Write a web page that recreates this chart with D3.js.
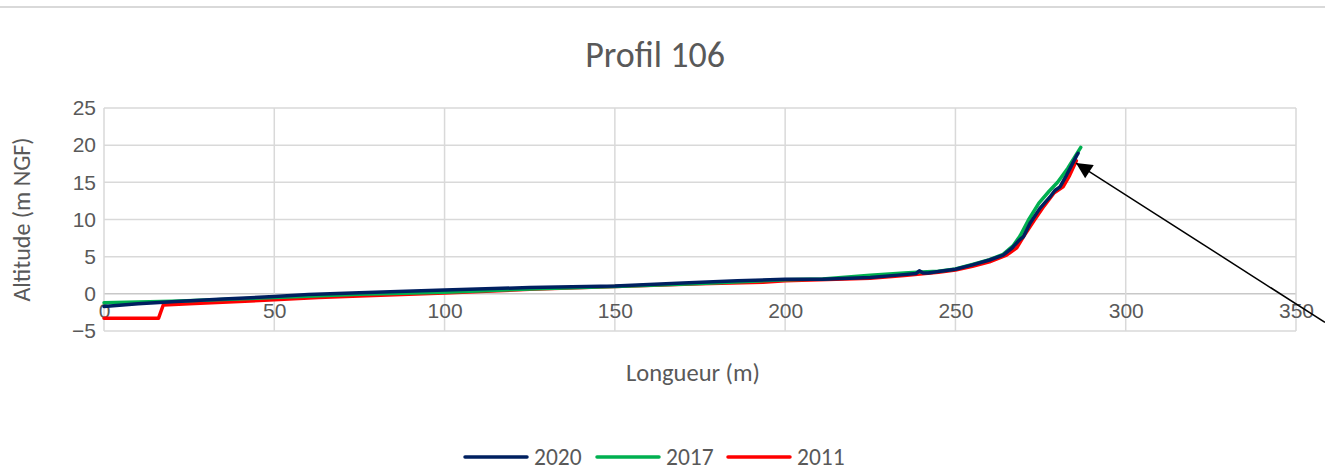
<!DOCTYPE html>
<html>
<head>
<meta charset="utf-8">
<script src="https://cdn.jsdelivr.net/npm/d3@7"></script>
<style>
  html, body { margin: 0; padding: 0; background: #fff; }
  svg { display: block; font-family: Carlito, Calibri, Lato, sans-serif; }
  .tickText { fill: #595959; font-size: 21px; }
</style>
</head>
<body>
<div id="chart"></div>
<script>
// Values (distance in m, altitude in m NGF)
const serie2020 = [
  [0, -1.7], [10, -1.35], [20, -1.05], [35, -0.7], [50, -0.36], [60, -0.1], [75, 0.15],
  [100, 0.5], [125, 0.85], [150, 1.07], [170, 1.45], [186, 1.75], [200, 1.97], [211, 1.95],
  [225, 2.2], [234, 2.55], [238.5, 2.75], [239.4, 3.1], [240.5, 2.8], [242, 2.8], [245, 3.0],
  [250, 3.3], [255, 3.9], [260, 4.55], [264, 5.2], [266.5, 6.1], [268.9, 7.3], [270, 7.7],
  [271.9, 9.5], [274.8, 11.5], [277.7, 13.0], [279.2, 13.9], [280.7, 14.4], [282.6, 15.95],
  [285.6, 18.6], [286, 18.9]
];
const serie2017 = [
  [0, -1.2], [10, -1.1], [20, -1.0], [35, -0.75], [50, -0.5], [75, -0.05], [100, 0.2],
  [125, 0.65], [150, 1.0], [175, 1.4], [200, 1.9], [211, 2.0], [225, 2.5], [235, 2.8],
  [240, 2.95], [245, 3.05], [250, 3.35], [255, 3.95], [260, 4.6], [264, 5.3], [267, 6.5],
  [269, 7.8], [271.4, 9.9], [274.5, 12.2], [277.5, 13.8], [280, 15.0], [283, 16.9], [286.8, 19.7]
];
const serie2011 = [
  [0, -3.3], [16, -3.3], [17.4, -1.5], [25, -1.35], [50, -0.8], [63, -0.5], [75, -0.3],
  [100, 0.1], [125, 0.6], [150, 1.0], [175, 1.35], [193.5, 1.55], [200, 1.75], [225, 2.1],
  [235, 2.45], [245, 2.9], [250, 3.2], [255, 3.7], [260, 4.3], [265, 5.2], [268, 6.2],
  [270, 7.7], [273, 9.8], [276, 11.8], [279, 13.6], [281.6, 14.4], [283.5, 15.9], [285.5, 17.9]
];
const seriesNames = ["2020", "2017", "2011"];
const seriesColors = ["#002060", "#00B050", "#FF0000"];
const xTicks = [0, 50, 100, 150, 200, 250, 300, 350];
const yTicks = [-5, 0, 5, 10, 15, 20, 25];
// annotation arrow: tail then tip, in data units
const arrowPoints = [[358.5, -3.85], [285.4, 17.6]];

const width = 1325, height = 475;
const margin = {top: 108, right: 29, bottom: 144, left: 104};

const svg = d3.select("#chart").append("svg")
  .attr("width", width)
  .attr("height", height);

// thin top frame line
svg.append("line")
  .attr("x1", 0).attr("x2", width)
  .attr("y1", 7).attr("y2", 7)
  .attr("stroke", "#d9d9d9").attr("stroke-width", 2);

const xScale = d3.scaleLinear().domain([0, 350]).range([margin.left, width - margin.right]);
const yScale = d3.scaleLinear().domain([-5, 25]).range([height - margin.bottom, margin.top]);

// gridlines
svg.append("g").selectAll("line.hgrid")
  .data(yTicks).join("line")
  .attr("x1", xScale(0)).attr("x2", xScale(350))
  .attr("y1", d => yScale(d)).attr("y2", d => yScale(d))
  .attr("stroke", d => d === 0 ? "#c8c8c8" : "#d9d9d9")
  .attr("stroke-width", 1.5);

svg.append("g").selectAll("line.vgrid")
  .data(xTicks).join("line")
  .attr("x1", d => xScale(d)).attr("x2", d => xScale(d))
  .attr("y1", yScale(25)).attr("y2", yScale(-5))
  .attr("stroke", "#d9d9d9")
  .attr("stroke-width", 1.5);

// axes (axis crosses at 0)
const xAxis = svg.append("g")
  .attr("transform", `translate(0,${yScale(0)})`)
  .call(d3.axisBottom(xScale).tickValues(xTicks).tickSize(0).tickPadding(9));
xAxis.select(".domain").remove();
xAxis.selectAll("text").attr("class", "tickText").attr("font-family", null).attr("font-size", null);

const yAxis = svg.append("g")
  .attr("transform", `translate(${xScale(0)},0)`)
  .call(d3.axisLeft(yScale).tickValues(yTicks).tickSize(0).tickPadding(8));
yAxis.select(".domain").remove();
yAxis.selectAll("text").attr("class", "tickText").attr("font-family", null).attr("font-size", null);

// series
const line = d3.line()
  .x(d => xScale(d[0]))
  .y(d => yScale(d[1]));

const allSeries = [serie2020, serie2017, serie2011];
// draw 2011 first, 2020 last (on top)
[2, 1, 0].forEach(i => {
  svg.append("path")
    .datum(allSeries[i])
    .attr("fill", "none")
    .attr("stroke", seriesColors[i])
    .attr("stroke-width", 3.5)
    .attr("stroke-linejoin", "round")
    .attr("stroke-linecap", "round")
    .attr("d", line);
});

// annotation arrow
svg.append("defs").append("marker")
  .attr("id", "arrowHead")
  .attr("viewBox", "0 0 10 10")
  .attr("refX", 10).attr("refY", 5)
  .attr("markerWidth", 19).attr("markerHeight", 16)
  .attr("markerUnits", "userSpaceOnUse")
  .attr("orient", "auto")
  .append("path")
  .attr("d", "M0,0 L10,5 L0,10 Z")
  .attr("fill", "#000");

svg.append("path")
  .datum(arrowPoints)
  .attr("d", line)
  .attr("stroke", "#000")
  .attr("stroke-width", 1.5)
  .attr("fill", "none")
  .attr("marker-end", "url(#arrowHead)");

// title
svg.append("text")
  .attr("x", 655).attr("y", 67)
  .attr("text-anchor", "middle")
  .attr("fill", "#595959")
  .style("font-size", "36px")
  .text("Profil 106");

// axis titles
svg.append("text")
  .attr("x", 693).attr("y", 381)
  .attr("text-anchor", "middle")
  .attr("fill", "#595959")
  .style("font-size", "24.5px")
  .text("Longueur (m)");

svg.append("text")
  .attr("transform", "rotate(-90)")
  .attr("x", -(yScale(25) + yScale(-5)) / 2)
  .attr("y", 30)
  .attr("text-anchor", "middle")
  .attr("fill", "#595959")
  .style("font-size", "24px")
  .text("Altitude (m NGF)");

// legend
const legendX = [465, 597, 728];
const legend = svg.append("g").selectAll("g")
  .data(seriesNames).join("g")
  .attr("transform", (d, i) => `translate(${legendX[i]},457)`);
legend.append("line")
  .attr("x1", 0).attr("x2", 62)
  .attr("stroke", (d, i) => seriesColors[i])
  .attr("stroke-width", 3.5)
  .attr("stroke-linecap", "round");
legend.append("text")
  .attr("x", 69).attr("y", 8)
  .attr("fill", "#595959")
  .style("font-size", "23.5px")
  .text(d => d);
</script>
</body>
</html>
